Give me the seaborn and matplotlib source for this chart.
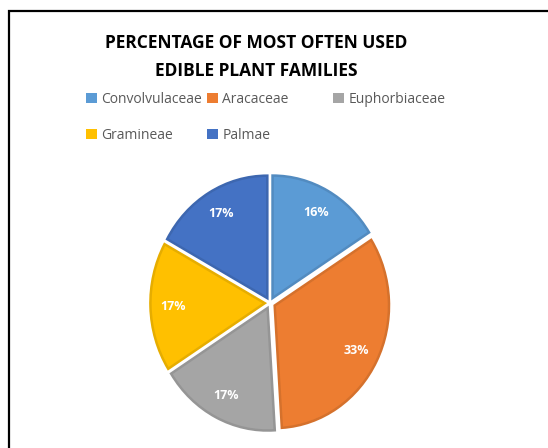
import numpy as np
import seaborn as sns
import matplotlib.pyplot as plt
from matplotlib.patches import Rectangle, Patch
import matplotlib.colors as mcolors

# Data
families = ["Convolvulaceae", "Aracaceae", "Euphorbiaceae", "Gramineae", "Palmae"]
shares = [16, 33, 17, 17, 17]
colors = ["#5B9BD5", "#ED7D31", "#A5A5A5", "#FFC000", "#4472C4"]

sns.set_style("white")
plt.rcParams["font.family"] = ["Open Sans", "DejaVu Sans"]

W, H = 548, 448
fig = plt.figure(figsize=(W / 100, H / 100), dpi=100)
fig.patch.set_facecolor("white")

# Chart border (runs off the right and bottom edge)
fig.patches.append(Rectangle((9 / W, -0.2), 2, 1.2 - 11 / H, transform=fig.transFigure,
                             fill=False, edgecolor="black", linewidth=1.6))

# Pie axes centred at (270, 303) px; the original is slightly narrower than tall
cx, cy, half = 270, 303, 140
ax = fig.add_axes([(cx - half) / W, (H - cy - half) / H, 2 * half / W, 2 * half / H])
edge_cols = [tuple(np.array(mcolors.to_rgb(c)) * 0.9) for c in colors]
wedges, texts, autotexts = ax.pie(
    shares, colors=colors, startangle=90, counterclock=False,
    explode=[0.045] * len(shares), radius=0.98, autopct="%1.0f%%", pctdistance=0.8,
    wedgeprops=dict(linewidth=1.8), textprops=dict(color="white", fontsize=9, fontweight="bold"))
for w, ec in zip(wedges, edge_cols):
    w.set_edgecolor(ec)
ax.set_aspect("auto")
ax.set_xlim(-1.2, 1.2)
ax.set_ylim(-1.12, 1.12)
ax.axis("off")

# Title
fig.text(256 / W, 1 - 57 / H, "PERCENTAGE OF MOST OFTEN USED\nEDIBLE PLANT FAMILIES",
         ha="center", va="center", fontsize=12.5, fontweight="bold", color="black", linespacing=1.7)

# Legend laid out in three fixed-width columns, like the original
columns = [[0, 3], [1, 4], [2]]
col_x = [86, 207, 333]
for idx, x in zip(columns, col_x):
    handles = [Patch(facecolor=colors[i], edgecolor="none") for i in idx]
    leg = fig.legend(handles, [families[i] for i in idx], loc="upper left",
                     bbox_to_anchor=(x / W, 1 - 92 / H), frameon=False, fontsize=10,
                     handlelength=0.8, handleheight=0.8, handletextpad=0.3,
                     labelspacing=1.5, borderpad=0, borderaxespad=0, labelcolor="#595959")

fig.savefig("out.png", dpi=100)
